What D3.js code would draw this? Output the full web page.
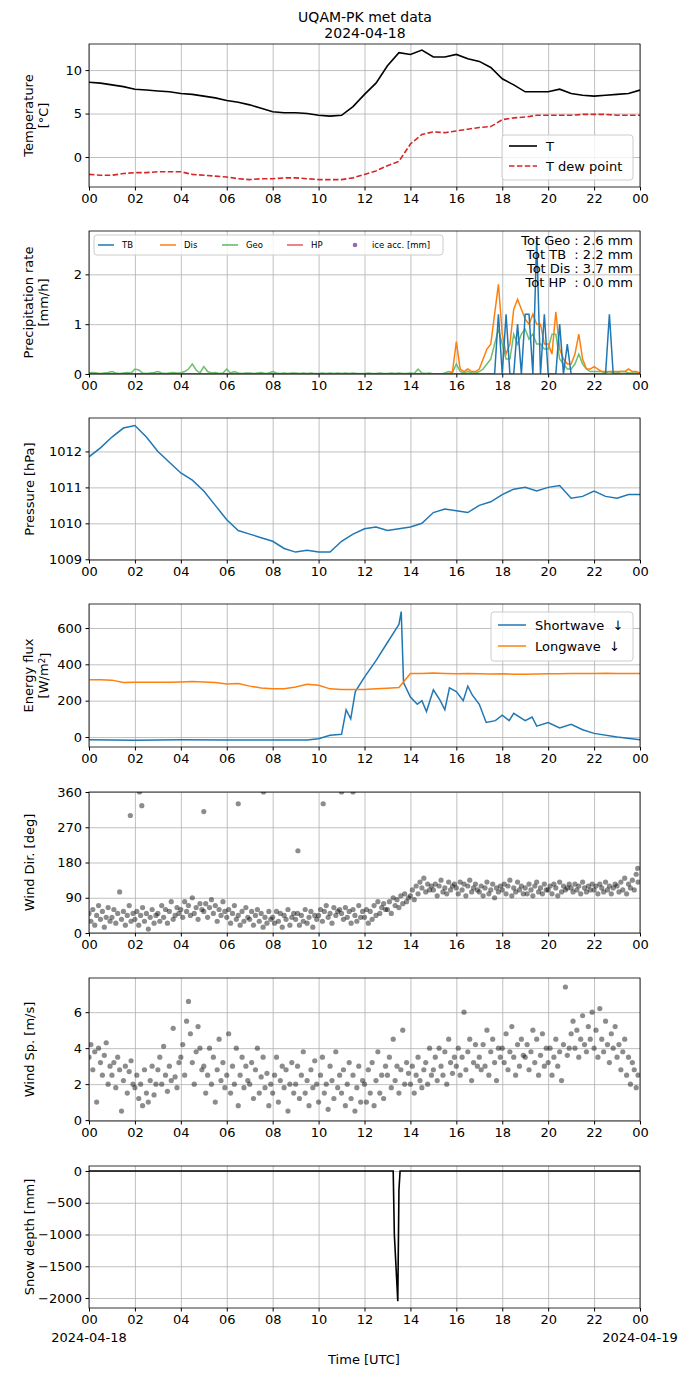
<!DOCTYPE html>
<html><head><meta charset="utf-8">
<script src="https://cdn.jsdelivr.net/npm/d3@7"></script>
<style>
body{margin:0;background:#fff}
text{font-family:"DejaVu Sans",sans-serif;fill:#000}
</style></head><body>
<script>
var hourTicks = d3.range(0, 25, 2);
var tickLabels = ["00","02","04","06","08","10","12","14","16","18","20","22","00"];

// temperature, 30 min steps
var tempVals = [8.6,8.5,8.3,8.1,7.8,7.7,7.6,7.5,7.3,7.2,7.0,6.8,6.5,6.3,6.0,5.6,5.2,5.1,5.1,5.0,4.8,4.7,4.8,5.8,7.2,8.5,10.5,12.0,11.8,12.3,11.5,11.5,11.8,11.3,11.0,10.3,9.0,8.3,7.5,7.5,7.5,7.8,7.3,7.1,7.0,7.1,7.2,7.3,7.7];
var dewVals = [-2.0,-2.1,-2.1,-1.9,-1.8,-1.8,-1.7,-1.7,-1.7,-2.0,-2.1,-2.2,-2.3,-2.5,-2.6,-2.5,-2.5,-2.4,-2.4,-2.5,-2.6,-2.6,-2.6,-2.4,-2.0,-1.6,-1.0,-0.5,1.5,2.6,2.9,2.8,3.0,3.2,3.4,3.5,4.3,4.5,4.6,4.8,4.8,4.8,4.8,4.9,4.9,4.9,4.8,4.8,4.8];

// precipitation, 10 min steps
var precipTB = [].concat(
  d3.range(107).map(function(){return 0;}),
  [1.2, 0,1.2,0,0,1.0,0, 1.2,1.2,0,2.7,0,1.2, 0,0,0,1.0,0,0.6, 0,0,0,0,0,0, 0,0,0,0,1.2,0, 0,0,0,0,0,0,0,0]);
var precipDis = [].concat(
  d3.range(95).map(function(){return 0;}),
  [0.05, 0.65,0.1,0.05,0.1,0.05,0.05, 0.1,0.3,0.5,0.6,1.2,1.8, 0.8,0.4,0.6,1.3,1.5,1.3, 1.1,1.0,1.2,1.0,1.0,0.6, 0.6,0.4,1.25,0.5,0.3,0.2, 0.2,0.4,0.8,0.3,0.1,0.1, 0.15,0.1,0.05,0.05,0.05,0.05, 0.05,0.05,0.05,0.1,0.05,0.05,0.02]);
var precipGeo = [0.02,0.03,0.02,0.01,0.02,0.03, 0.05,0.02,0.01,0.02,0.03,0.02, 0.1,0.08,0.02,0.01,0.02,0.03, 0.05,0.02,0.01,0.02,0.03,0.02,
  0.02,0.05,0.1,0.2,0.08,0.02, 0.15,0.05,0.02,0.03,0.01,0.02, 0.1,0.02,0.05,0.02,0.01,0.02, 0.02,0.01,0.02,0.03,0.01,0.02,
  0.05,0.02,0.01,0.02,0.01,0.02, 0.02,0.01,0.02,0.01,0.02,0.01, 0.01,0.02,0.01,0.02,0.01,0.02, 0.01,0.02,0.01,0.02,0.01,0.01,
  0.01,0.02,0.01,0.01,0.02,0.01, 0.01,0.02,0.01,0.02,0.01,0.01, 0.02,0.01,0.1,0.02,0.01,0.02, 0,0,0,0.02,0.05,0.03,
  0.2,0.05,0.02,0.05,0.02,0.02, 0.05,0.1,0.2,0.3,0.6,0.9, 0.6,0.3,0.3,0.8,0.6,0.8, 0.9,0.7,0.8,0.6,0.6,0.5,
  0.5,0.8,0.8,0.3,0.2,0.1, 0.1,0.2,0.4,0.2,0.1,0.05, 0.05,0.05,0.05,0.02,0.05,0.02, 0.02,0.05,0.05,0.02,0.02,0.02,0.02];
var precipHP = d3.range(145).map(function(){return 0;});
var precipTotals = ["Tot Geo : 2.6 mm","Tot TB  : 2.2 mm","Tot Dis : 3.7 mm","Tot HP  : 0.0 mm"];

// pressure, 30 min steps
var pressVals = [1011.85,1012.1,1012.4,1012.65,1012.72,1012.4,1012.0,1011.7,1011.4,1011.2,1010.9,1010.5,1010.1,1009.8,1009.7,1009.6,1009.5,1009.3,1009.2,1009.25,1009.2,1009.2,1009.5,1009.7,1009.85,1009.9,1009.8,1009.85,1009.9,1010.0,1010.3,1010.4,1010.35,1010.3,1010.5,1010.6,1010.8,1010.95,1011.0,1010.9,1011.0,1011.05,1010.7,1010.75,1010.9,1010.75,1010.7,1010.8,1010.8];

// energy flux
var lwVals = [315,315,313,300,302,302,301,302,303,305,303,300,292,295,280,270,265,265,275,290,285,265,262,262,262,265,268,272,350,350,352,350,348,350,348,347,348,346,345,347,348,348,350,350,350,351,350,350,350];
var swTimes = [0,2,4,6,8,9.5,10,10.5,11,11.2,11.4,11.6,12,12.5,13,13.3,13.5,13.6,13.7,14,14.3,14.5,14.7,15,15.3,15.5,15.7,16,16.3,16.5,16.7,17,17.3,17.7,18,18.3,18.5,19,19.3,19.5,20,20.5,21,21.5,22,23,24];
var swVals = [-15,-18,-15,-16,-17,-16,-10,10,15,150,100,250,330,420,520,580,620,690,300,220,180,200,140,260,200,150,270,250,200,280,230,180,80,90,120,90,130,90,110,60,80,50,70,40,20,0,-15];

// wind direction and speed, 5 min steps
var windDir = [50,30,60,20,45,70,35,55,15,40,65,30, 40,60,25,50,105,35,55,20,45,70,30,50, 35,55,20,45,65,30,50,10,40,60,25,45,
  50,30,70,40,60,25,55,80,35,45,65,50, 60,40,80,55,70,45,90,50,65,35,75,60, 55,75,40,65,85,50,70,30,60,45,80,55,
  40,60,25,50,70,35,45,20,55,30,65,40, 35,55,20,45,60,30,50,15,40,25,55,35, 40,25,55,30,50,15,45,35,60,20,40,50,
  35,50,20,45,30,60,25,40,55,15,45,35, 45,60,30,55,70,40,50,25,65,45,55,60, 50,35,65,40,55,25,60,45,30,70,40,55,
  40,60,25,55,35,70,45,80,50,65,75,60, 60,80,50,90,70,85,65,95,75,100,80,90, 95,110,85,120,100,130,115,140,105,125,110,120,
  110,125,95,120,135,105,115,100,130,110,120,125, 115,100,130,110,125,95,120,135,105,115,125,110, 105,120,95,115,130,100,110,125,90,115,105,120,
  110,125,100,120,135,95,115,105,130,110,120,100, 115,100,125,110,95,120,130,105,115,100,125,110, 110,120,100,125,115,95,130,105,120,110,115,125,
  115,105,125,110,120,100,130,115,105,120,110,125, 110,120,100,125,115,105,130,110,120,100,115,125, 120,105,130,110,140,100,125,115,135,110,150,130];
var dirOutTimes = [1.8,2.2,2.3,5.0,6.5,7.6,9.1,10.2,11.0,11.5,23.9];
var dirOutVals = [300,360,325,310,330,360,210,330,360,360,165];
var windSp = [3.5,4.2,2.8,3.8,1.0,4.0,3.2,2.5,3.6,4.3,2.0,3.0, 2.5,3.2,1.8,3.5,2.8,0.5,2.2,3.0,1.5,2.7,3.3,2.0, 1.8,2.5,1.2,2.0,0.8,2.8,1.5,1.0,2.2,3.0,1.4,2.0,
  2.8,3.5,2.0,4.1,2.5,1.6,3.0,2.2,5.1,2.4,1.8,3.2, 3.5,4.2,2.5,5.5,6.6,4.8,3.2,2.0,3.8,5.2,4.0,2.8, 3.0,1.5,2.5,4.0,2.0,3.5,1.0,2.8,4.5,2.2,3.2,1.8,
  2.5,4.8,1.5,3.0,2.0,4.0,0.8,2.5,3.5,1.8,3.0,2.2, 2.0,3.2,1.2,2.8,4.0,1.5,2.4,3.5,1.8,2.6,0.8,2.0, 1.5,2.5,3.5,1.0,2.2,3.0,1.8,2.8,0.5,2.0,3.2,1.5,
  2.0,3.0,1.2,2.5,3.8,1.5,2.2,0.8,2.8,1.8,3.3,2.0, 1.0,2.5,3.5,1.5,2.0,0.6,3.0,2.2,1.2,3.8,1.8,2.5, 1.5,2.8,0.8,2.0,3.2,1.2,2.5,0.5,1.8,3.0,1.0,2.2,
  2.0,1.0,2.8,1.5,3.2,0.8,2.2,3.8,1.5,2.5,1.2,3.0, 2.5,3.5,1.8,4.5,2.2,3.0,1.5,2.8,5.0,2.0,3.2,2.6, 2.0,3.0,1.5,2.5,3.5,2.2,1.8,2.8,3.2,2.0,4.0,2.5,
  2.8,3.5,2.2,4.0,3.0,2.5,3.8,2.0,4.5,3.2,2.6,3.5, 3.0,4.0,2.5,3.5,6.0,2.8,3.8,4.5,2.2,3.2,4.2,3.0, 3.5,2.8,4.2,3.0,5.0,2.5,3.8,4.5,3.2,2.2,4.0,3.5,
  4.0,3.2,4.8,2.8,3.8,5.2,3.5,2.5,4.2,3.0,4.5,3.6, 3.5,4.2,2.8,3.8,5.0,3.2,4.5,2.5,3.6,4.8,3.0,4.0, 3.2,4.0,2.5,3.5,4.5,3.0,3.8,2.2,4.2,7.4,3.6,4.0,
  4.8,5.5,4.0,5.0,3.5,4.5,5.8,4.2,3.8,5.2,4.5,6.0, 4.0,5.0,3.5,6.2,4.5,3.8,5.5,4.2,3.2,4.8,4.0,5.2, 3.5,4.2,2.8,3.8,4.5,2.5,3.5,2.0,3.2,2.8,1.8,2.5];

// snow depth
var snowTimes = [0,13.25,13.3,13.4,13.45,13.5,13.55,24];
var snowVals = [0,0,-1000,-1700,-2050,-300,0,0];

var W = 690, H = 1377, L = 89, R = 640;
var svg = d3.select("body").append("svg").attr("width", W).attr("height", H);
var x = d3.scaleLinear().domain([0, 24]).range([L, R]);
var halfHour = d3.range(49).map(function(i){ return i / 2; });
var tenMin = d3.range(145).map(function(i){ return i / 6; });
var fiveMin = d3.range(288).map(function(i){ return i / 12; });

svg.append("text").attr("x", 365).attr("y", 22).attr("text-anchor", "middle").style("font-size", "14px").text("UQAM-PK met data");
svg.append("text").attr("x", 365).attr("y", 38).attr("text-anchor", "middle").style("font-size", "14px").text("2024-04-18");

function panel(top, bottom, ydom, yticks, ylabel, yfmt) {
  var y = d3.scaleLinear().domain(ydom).range([bottom, top]);
  var g = svg.append("g");
  var clipId = "c" + top;
  svg.append("clipPath").attr("id", clipId).append("rect").attr("x", L).attr("y", top).attr("width", R - L).attr("height", bottom - top);
  g.append("g").attr("transform", "translate(0," + bottom + ")")
    .call(d3.axisBottom(x).tickValues(hourTicks).tickSize(-(bottom - top)).tickFormat(""))
    .call(function(a){ a.selectAll("line").attr("stroke", "#b0b0b0").attr("stroke-width", 0.8); a.select(".domain").remove(); });
  g.append("g").attr("transform", "translate(" + L + ",0)")
    .call(d3.axisLeft(y).tickValues(yticks).tickSize(-(R - L)).tickFormat(""))
    .call(function(a){ a.selectAll("line").attr("stroke", "#b0b0b0").attr("stroke-width", 0.8); a.select(".domain").remove(); });
  var ax = g.append("g").attr("transform", "translate(0," + bottom + ")")
    .call(d3.axisBottom(x).tickValues(hourTicks).tickSize(3.5).tickPadding(3.5).tickFormat(function(d, i){ return tickLabels[i]; }));
  var ay = g.append("g").attr("transform", "translate(" + L + ",0)")
    .call(d3.axisLeft(y).tickValues(yticks).tickSize(3.5).tickPadding(3.5).tickFormat(yfmt || function(d){ return d < 0 ? "\u2212" + Math.abs(d) : d; }));
  [ax, ay].forEach(function(a){
    a.select(".domain").remove();
    a.selectAll("text").style("font-size", "13px").style("font-family", "DejaVu Sans").attr("fill", "#000");
    a.selectAll("line").attr("stroke", "#000");
  });
  var lines = ylabel.length;
  var lx = lines === 2 ? 40 : 34;
  var lt = g.append("text").attr("transform", "translate(" + lx + "," + ((top + bottom) / 2) + ") rotate(-90)")
    .attr("text-anchor", "middle").style("font-size", "13px");
  ylabel.forEach(function(s, i){
    var ts = lt.append("tspan").attr("x", 0).attr("dy", i === 0 ? (lines === 2 ? "-0.55em" : "0") : "1.2em");
    if (typeof s === "string") ts.text(s); else s(ts);
  });
  var plot = svg.append("g").attr("clip-path", "url(#" + clipId + ")");
  svg.append("rect").attr("x", L).attr("y", top).attr("width", R - L).attr("height", bottom - top)
    .attr("fill", "none").attr("stroke", "#000").attr("stroke-width", 0.8);
  return {y: y, plot: plot, top: top, bottom: bottom};
}

function drawLine(p, ts, vs, color, width, dash) {
  var line = d3.line().x(function(d){ return x(d[0]); }).y(function(d){ return p.y(d[1]); });
  var path = p.plot.append("path").datum(ts.map(function(t, i){ return [t, vs[i]]; }))
    .attr("d", line).attr("fill", "none").attr("stroke", color).attr("stroke-width", width || 1.5);
  if (dash) path.attr("stroke-dasharray", dash);
}

// Panel 1: temperature
var p1 = panel(44, 187, [-3.45, 13.0], [0, 5, 10], ["Temperature", "[\u00b0C]"]);
drawLine(p1, halfHour, tempVals, "#000", 1.6);
drawLine(p1, halfHour, dewVals, "#d62728", 1.6, "5.5,2.4");
var lg1 = svg.append("g").attr("transform", "translate(502,135)");
lg1.append("rect").attr("width", 131).attr("height", 45).attr("rx", 3).attr("fill", "#fff").attr("fill-opacity", 0.8).attr("stroke", "#ccc");
lg1.append("line").attr("x1", 7).attr("x2", 35).attr("y1", 11).attr("y2", 11).attr("stroke", "#000").attr("stroke-width", 1.6);
lg1.append("text").attr("x", 44).attr("y", 15.5).style("font-size", "13px").text("T");
lg1.append("line").attr("x1", 7).attr("x2", 35).attr("y1", 31).attr("y2", 31).attr("stroke", "#d62728").attr("stroke-width", 1.6).attr("stroke-dasharray", "5.5,2.4");
lg1.append("text").attr("x", 44).attr("y", 35.5).style("font-size", "13px").text("T dew point");

// Panel 2: precipitation
var p2 = panel(231, 374, [0, 2.87], [0, 1, 2], ["Precipitation rate", "[mm/h]"]);
drawLine(p2, tenMin, precipGeo, "#4daf4a", 1.5);
p2.plot.selectAll("path").attr("stroke", "#5cb85c").attr("stroke-opacity", 0.9);
drawLine(p2, tenMin, precipDis, "#ff7f0e", 1.5);
drawLine(p2, tenMin, precipTB, "#1f77b4", 1.5);
drawLine(p2, tenMin, precipHP, "#e05c5c", 1.2);
var lg2 = svg.append("g").attr("transform", "translate(94,235)");
lg2.append("rect").attr("width", 349).attr("height", 20).attr("rx", 3).attr("fill", "#fff").attr("fill-opacity", 0.8).attr("stroke", "#ccc");
var lg2Items = [["TB", "#1f77b4", 4], ["Dis", "#ff7f0e", 66], ["Geo", "#5cb85c", 128], ["HP", "#e05c5c", 193]];
lg2Items.forEach(function(d){
  lg2.append("line").attr("x1", d[2]).attr("x2", d[2] + 16).attr("y1", 10).attr("y2", 10).attr("stroke", d[1]).attr("stroke-width", 1.5);
  lg2.append("text").attr("x", d[2] + 24).attr("y", 13).style("font-size", "8.5px").text(d[0]);
});
lg2.append("circle").attr("cx", 261).attr("cy", 10).attr("r", 2.3).attr("fill", "#9467bd");
lg2.append("text").attr("x", 278).attr("y", 13).style("font-size", "8.5px").text("ice acc. [mm]");
precipTotals.forEach(function(s, i){
  svg.append("text").attr("x", 633).attr("y", 245 + i * 14).attr("text-anchor", "end").style("font-size", "13px").style("white-space", "pre").attr("xml:space", "preserve").text(s);
});

// Panel 3: pressure
var p3 = panel(418, 560, [1008.98, 1012.93], [1009, 1010, 1011, 1012], ["Pressure [hPa]"]);
drawLine(p3, halfHour, pressVals, "#1f77b4", 1.5);

// Panel 4: energy flux
var p4 = panel(604, 747, [-55, 732], [0, 200, 400, 600], ["Energy flux", function(ts){ ts.text("[W/m"); ts.append("tspan").attr("dy", "-0.4em").style("font-size", "9px").text("2"); ts.append("tspan").attr("dy", "0.4em").text("]"); }]);
drawLine(p4, swTimes, swVals, "#1f77b4", 1.5);
drawLine(p4, halfHour, lwVals, "#ff7f0e", 1.5);
var lg4 = svg.append("g").attr("transform", "translate(491,612)");
lg4.append("rect").attr("width", 142).attr("height", 49).attr("rx", 3).attr("fill", "#fff").attr("fill-opacity", 0.8).attr("stroke", "#ccc");
lg4.append("line").attr("x1", 7).attr("x2", 35).attr("y1", 13).attr("y2", 13).attr("stroke", "#1f77b4").attr("stroke-width", 1.5);
lg4.append("text").attr("x", 44).attr("y", 17.5).style("font-size", "13px").text("Shortwave  \u2193").attr("xml:space", "preserve");
lg4.append("line").attr("x1", 7).attr("x2", 35).attr("y1", 34).attr("y2", 34).attr("stroke", "#ff7f0e").attr("stroke-width", 1.5);
lg4.append("text").attr("x", 44).attr("y", 38.5).style("font-size", "13px").text("Longwave  \u2193").attr("xml:space", "preserve");

// Panel 5: wind direction
var p5 = panel(792, 933, [0, 360], [0, 90, 180, 270, 360], ["Wind Dir. [deg]"]);
p5.plot.selectAll("circle.a").data(windDir).enter().append("circle").attr("class", "a")
  .attr("cx", function(d, i){ return x(fiveMin[i]); }).attr("cy", function(d){ return p5.y(d); })
  .attr("r", 2.6).attr("fill", "#000").attr("fill-opacity", 0.45);
p5.plot.selectAll("circle.b").data(dirOutVals).enter().append("circle").attr("class", "b")
  .attr("cx", function(d, i){ return x(dirOutTimes[i]); }).attr("cy", function(d){ return p5.y(d); })
  .attr("r", 2.6).attr("fill", "#000").attr("fill-opacity", 0.45);

// Panel 6: wind speed
var p6 = panel(978, 1121, [-0.05, 7.9], [0, 2, 4, 6], ["Wind Sp. [m/s]"]);
p6.plot.selectAll("circle").data(windSp).enter().append("circle")
  .attr("cx", function(d, i){ return x(fiveMin[i]); }).attr("cy", function(d){ return p6.y(d); })
  .attr("r", 2.6).attr("fill", "#000").attr("fill-opacity", 0.45);

// Panel 7: snow depth
var p7 = panel(1166, 1308, [-2157, 79], [0, -500, -1000, -1500, -2000], ["Snow depth [mm]"]);
drawLine(p7, snowTimes, snowVals, "#000", 1.6);
svg.append("text").attr("x", x(0)).attr("y", 1342).attr("text-anchor", "middle").style("font-size", "13px").text("2024-04-18");
svg.append("text").attr("x", x(24)).attr("y", 1342).attr("text-anchor", "middle").style("font-size", "13px").text("2024-04-19");
svg.append("text").attr("x", 364).attr("y", 1364).attr("text-anchor", "middle").style("font-size", "13px").text("Time [UTC]");
</script>
</body></html>
